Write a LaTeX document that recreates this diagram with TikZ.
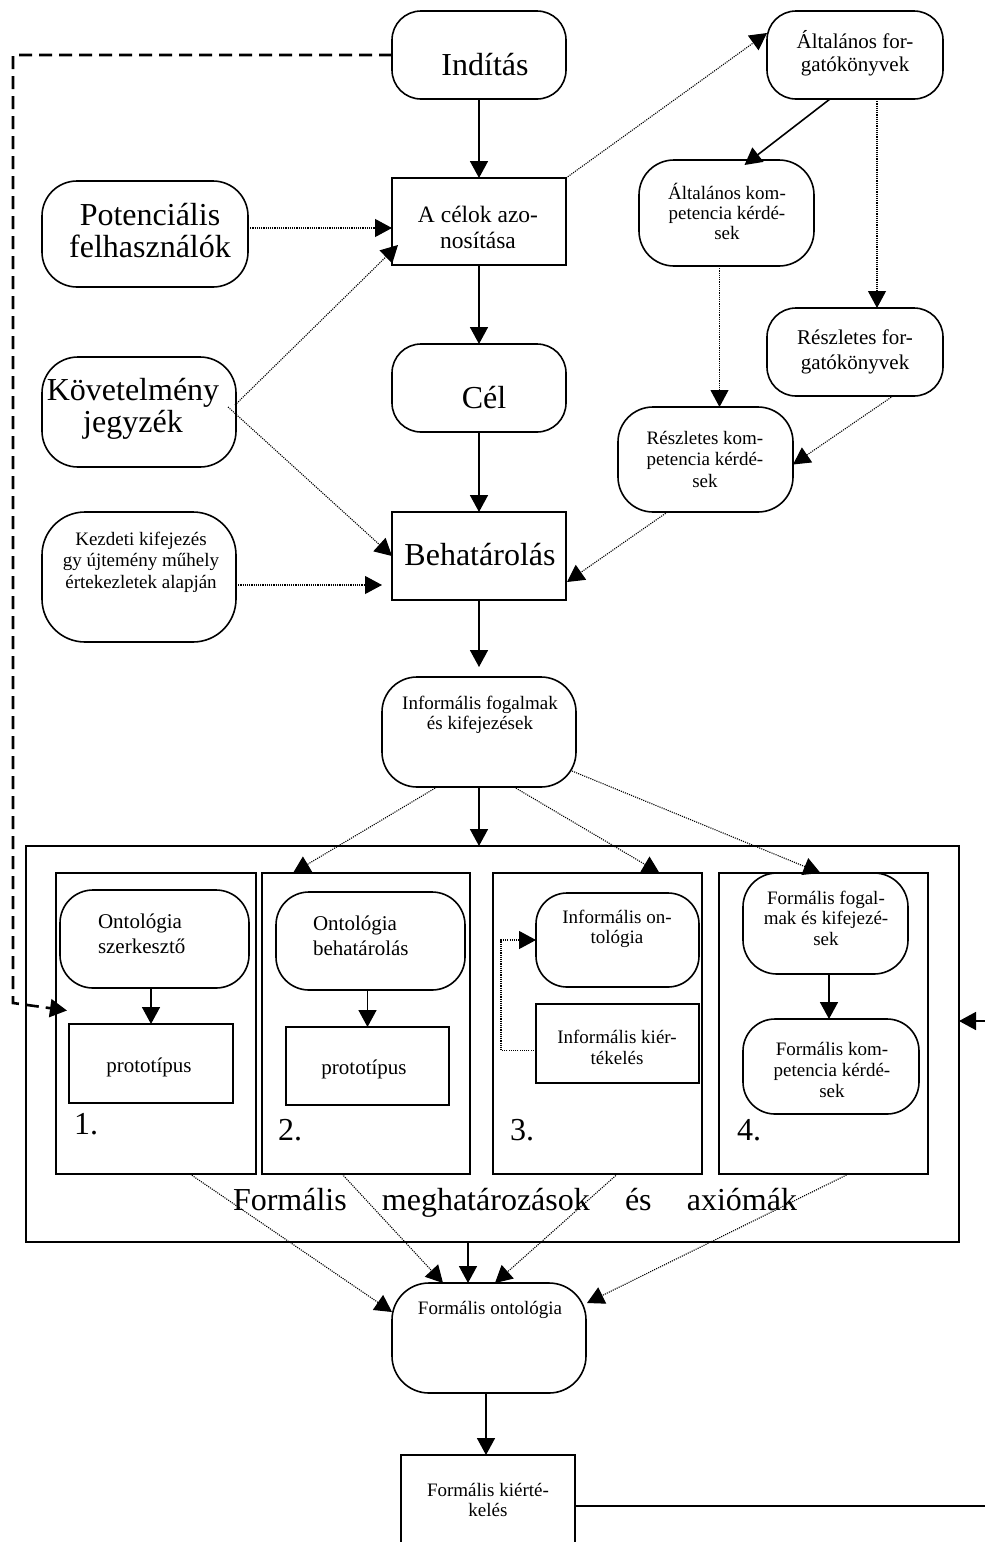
\documentclass[tikz,border=0pt]{standalone}
\usepackage{fontspec}
\setmainfont{Liberation Serif}
\usetikzlibrary{arrows.meta,calc,fit}

\begin{document}
\begin{tikzpicture}[x=1pt,y=-1pt,
  every node/.style={inner sep=0pt, outer sep=0pt},
  box/.style={draw, line width=1.6pt},
  rbox/.style={box, rounded corners=#1},
  % text nodes are placed by the baseline of their last line
  big/.style={font=\fontsize{32}{32}\selectfont, align=center, anchor=base},
  mid/.style={font=\fontsize{23.5}{26}\selectfont, align=center, anchor=base},
  med/.style={font=\fontsize{21}{24}\selectfont, align=center, anchor=base},
  sml/.style={font=\fontsize{19}{20.5}\selectfont, align=center, anchor=base},
  tip/.style={-{Triangle[length=17pt,width=18pt]}},
  flow/.style={tip, line width=1.6pt},
  dots/.style={tip, line width=1.1pt, dash pattern=on 1.1pt off 1.1pt},
  loopback/.style={tip, line width=2.6pt, dash pattern=on 13pt off 7pt},
]
\useasboundingbox (0,0) rectangle (985,1542);
\clip (0,0) rectangle (985,1542);
\fill[white] (0,0) rectangle (985,1542);

% ---- upper part: boxes ----
\node[rbox=29pt, fit={(392,11) (566,99)}]   (start)  {};
\node[rbox=29pt, fit={(767,11) (943,99)}]   (genscr) {};
\node[box,       fit={(392,178) (566,265)}] (goals)  {};
\node[rbox=35pt, fit={(42,181) (248,287)}]  (potf)   {};
\node[rbox=35pt, fit={(639,160) (814,266)}] (gencq)  {};
\node[rbox=29pt, fit={(767,308) (943,396)}] (detscr) {};
\node[rbox=29pt, fit={(392,344) (566,432)}] (cel)    {};
\node[rbox=36pt, fit={(42,357) (236,467)}]  (req)    {};
\node[rbox=35pt, fit={(618,407) (793,512)}] (detcq)  {};
\node[box,       fit={(392,512) (566,600)}] (behat)  {};
\node[rbox=43pt, fit={(42,512) (236,642)}]  (kez)    {};
\node[rbox=35pt, fit={(382,677) (576,787)}] (infc)   {};

% ---- upper part: texts ----
\node[big] (start-t)  at (485,75)  {Indítás};
\node[med, font=\fontsize{21}{23}\selectfont] (genscr-t) at (855,71) {Általános for-\\gatókönyvek};
\node[mid] (goals-t)  at (478,248) {A célok azo-\\nosítása};
\node[big] (potf-t)   at (150,257) {Potenciális\\felhasználók};
\node[sml, font=\fontsize{19}{20}\selectfont] (gencq-t) at (727,239) {Általános kom-\\petencia kérdé-\\sek};
\node[med, font=\fontsize{21}{25}\selectfont] (detscr-t) at (855,369) {Részletes for-\\gatókönyvek};
\node[big] (cel-t)    at (484,408) {Cél};
\node[big] (req-t)    at (133,432) {Követelmény\\jegyzék};
\node[sml, font=\fontsize{19}{21.5}\selectfont] (detcq-t) at (705,487) {Részletes kom-\\petencia kérdé-\\sek};
\node[big] (behat-t)  at (480,565) {Behatárolás};
\node[sml, font=\fontsize{19}{21.5}\selectfont] (kez-t) at (141,588)
  {Kezdeti kifejezés\\gy újtemény műhely\\értekezletek alapján};
\node[sml, font=\fontsize{19}{20}\selectfont] (infc-t) at (480,729)
  {Informális fogalmak\\és kifejezések};

% ---- frame with the four stages ----
\node[box, fit={(26,846) (959,1242)}]  (frame) {};
\node[box, fit={(56,873) (256,1174)}]  (box1)  {};
\node[box, fit={(262,873) (470,1174)}] (box2)  {};
\node[box, fit={(493,873) (702,1174)}] (box3)  {};
\node[box, fit={(719,873) (928,1174)}] (box4)  {};

\node[rbox=33pt, fit={(60,890) (249,988)}]   (ont1)   {};
\node[box,       fit={(69,1024) (233,1103)}] (proto1) {};
\node[rbox=33pt, fit={(276,892) (465,990)}]  (ont2)   {};
\node[box,       fit={(286,1027) (449,1105)}] (proto2) {};
\node[rbox=31pt, fit={(536,893) (699,987)}]  (iont)   {};
\node[box,       fit={(536,1004) (699,1083)}] (ieval) {};
\node[rbox=34pt, fit={(743,873) (908,974)}]  (ffog)   {};
\node[rbox=32pt, fit={(743,1019) (919,1114)}] (fcq)   {};

\node[med, font=\fontsize{21}{25}\selectfont, align=left, anchor=base west] (ont1-t) at (98,953)  {Ontológia\\szerkesztő};
\node[med, font=\fontsize{21}{25}\selectfont, align=left, anchor=base west] (ont2-t) at (313,955) {Ontológia\\behatárolás};
\node[med] (proto1-t) at (149,1072) {prototípus};
\node[med] (proto2-t) at (364,1074) {prototípus};
\node[sml, font=\fontsize{19}{20}\selectfont] (iont-t)  at (617,943)  {Informális on-\\tológia};
\node[sml, font=\fontsize{19}{21}\selectfont] (ieval-t) at (617,1064) {Informális kiér-\\tékelés};
\node[sml] (ffog-t)  at (826,945)  {Formális fogal-\\mak és kifejezé-\\sek};
\node[sml, font=\fontsize{19}{21}\selectfont] (fcq-t)   at (832,1097) {Formális kom-\\petencia kérdé-\\sek};

\node[big, anchor=base west] (n1) at (74,1134)  {1.};
\node[big, anchor=base west] (n2) at (278,1140) {2.};
\node[big, anchor=base west] (n3) at (510,1140) {3.};
\node[big, anchor=base west] (n4) at (737,1140) {4.};

\node[big, anchor=base west, text width=564pt, align=left] (axioms) at (233,1210)
  {Formális\hfill meghatározások\hfill és\hfill axiómák};

% ---- lower part ----
\node[rbox=37pt, fit={(392,1283) (586,1393)}] (fonto) {};
\node[box,       fit={(401,1455) (575,1565)}] (feval) {};
\node[sml] (fonto-t) at (490,1314) {Formális ontológia};
\node[sml, font=\fontsize{19}{19.5}\selectfont] (feval-t) at (488,1516) {Formális kiérté-\\kelés};

% ---- free ends, bends and offset attachment points ----
\coordinate (loopcorner) at (13,1003);
\coordinate (rightin)    at (985,1021);
\coordinate (rightout)   at (985,1506);
\coordinate (potf-o)  at ($(potf.east)+(0,-6)$);
\coordinate (kez-o)   at ($(kez.east)+(0,8)$);
\coordinate (gencq-o) at ($(gencq.south)+(-7,0)$);
\coordinate (ffog-o)  at ($(ffog.south)+(3.5,0)$);
\coordinate (fonto-i) at ($(fonto.north)+(-21,0)$);

% ---- solid main flow ----
\draw[flow] (start.south) -- (goals.north);
\draw[flow] (goals.south) -- (cel.north);
\draw[flow] (cel.south)   -- (behat.north);
\draw[flow, shorten >=10pt] (behat.south) -- (infc.north);
\draw[flow] (infc.south)  -- (infc.south |- frame.north);
\draw[flow] (fonto-i |- frame.south) -- (fonto-i);
\draw[flow] ($(fonto.south)+(-3,0)$) -- ($(feval.north)+(-2,0)$);
\draw[flow] ($(genscr.south)+(-25,0)$) -- ($(gencq.north)+(18,5)$);
\draw[flow] (ont1.south -| proto1.north) -- (proto1.north);
\draw[flow] (ont2.south -| proto2.north) -- (proto2.north);
\draw[flow] (ffog-o) -- (ffog-o |- fcq.north);
\draw[flow] (rightin) -- (rightin -| frame.east);
\draw[line width=1.6pt] (rightout -| feval.east) -- (rightout);

% ---- dashed loop back from the start ----
\draw[loopback] (start.west) -| (loopcorner) -- ($(box1.west)+(11,-13)$);

% ---- dotted inputs ----
\draw[dots] (potf-o) -- (potf-o -| goals.west);
\draw[dots] ($(req.east)+(-1,-7)$) -- ($(goals.south west)+(6,-20)$);
\draw[dots] ($(req.east)+(-8,-5)$) -- (behat.west);
\draw[dots, shorten >=10pt] (kez-o) -- (kez-o -| behat.west);
\draw[dots] (goals.north east) -- ($(genscr.west)+(0,-22)$);
\draw[dots] ($(genscr.south)+(22,0)$) -- ($(detscr.north)+(22,0)$);
\draw[dots] (gencq-o) -- (gencq-o |- detcq.north);
\draw[dots] ($(detscr.south)+(38,0)$) -- ($(detcq.east)+(0,5)$);
\draw[dots] ($(detcq.south)+(-38,0)$) -- ($(behat.east)+(1,26)$);
\draw[dots] ($(infc.south)+(-42,0)$) -- ($(box2.north)+(-73,0)$);
\draw[dots] ($(infc.south)+(35,0)$)  -- ($(box3.north)+(62,0)$);
\draw[dots] ($(infc.south east)+(-4,-16)$) -- ($(box4.north)+(-3,0)$);
\draw[dots] ($(ieval.west)+(0,7)$) -- ++(-35,0) |- (iont.west);
\draw[dots] ($(box1.south)+(34,0)$)   -- ($(fonto.west)+(0,-26)$);
\draw[dots] ($(box2.south)+(-24,0)$)  -- ($(fonto.north)+(-46,0)$);
\draw[dots] ($(box3.south)+(20,0)$)   -- ($(fonto.north)+(6,0)$);
\draw[dots] ($(box4.south)+(25,0)$)   -- ($(fonto.east)+(1,-35)$);
\end{tikzpicture}
\end{document}
